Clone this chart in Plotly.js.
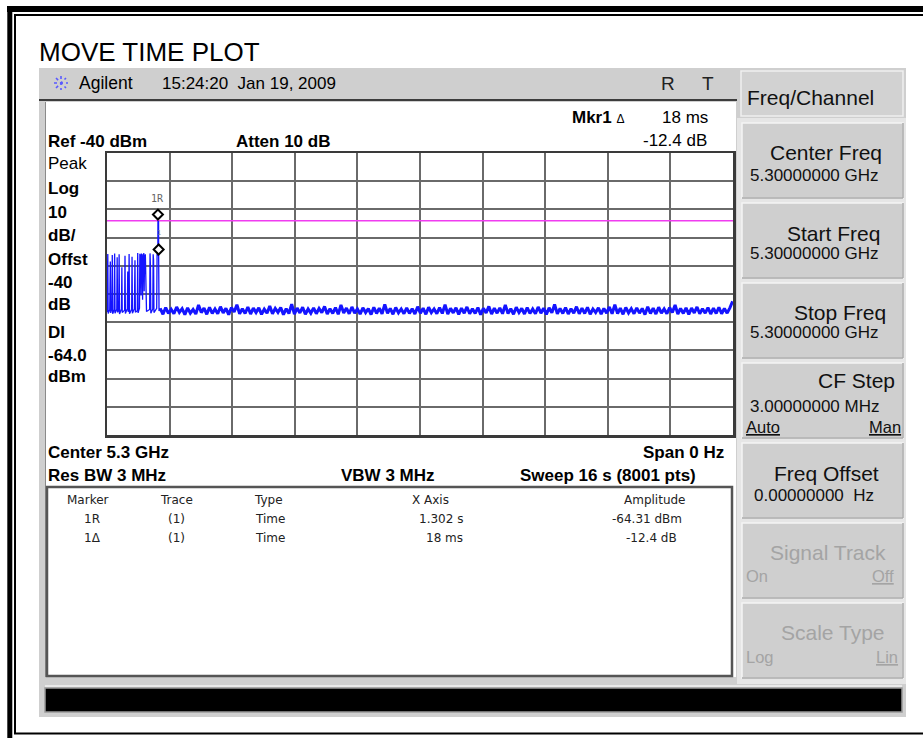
<!DOCTYPE html>
<html><head><meta charset="utf-8">
<script src="https://cdn.plot.ly/plotly-3.0.1.min.js"></script>
<style>html,body{margin:0;padding:0;background:#fff;overflow:hidden}#chart{width:923px;height:738px}</style>
</head><body><div id="chart"></div>
<script>
// ---------------- DATA ----------------
var refLevel = -40;          // dBm (top of grid)
var dbPerDiv = 10;
var yDivisions = 10;
var sweepTime = 16;          // s
var xDivisions = 10;
var displayLine = -64.0;     // dBm

// burst region of the trace (time s, amplitude dBm)
var pulseTime = [0.000,0.020,0.030,0.070,0.085,0.095,0.125,0.135,0.145,0.185,0.195,0.205,0.250,0.260,0.270,0.300,0.310,0.320,
  0.370,0.380,0.390,0.450,0.460,0.470,0.520,0.530,0.540,0.555,0.565,0.575,0.630,0.640,0.650,0.700,0.715,0.725,0.775,0.785,0.795,
  0.830,0.840,0.850,0.860,0.870,0.880,0.890,0.900,0.910,0.920,0.930,0.940,0.950,0.960,0.970,0.980,0.990,1.000,1.010,
  1.090,1.100,1.110,1.120,1.170,1.180,1.190,1.200,1.270,1.280,1.290,1.300,1.302,1.318,1.320,1.330,1.360];
var pulseAmp = [-96.4,-75.8,-96.9,-95.6,-78.5,-96.7,-95.2,-76.2,-97.0,-95.5,-75.6,-96.8,-95.4,-77.0,-96.5,-95.8,-75.9,-97.1,
  -95.3,-80.5,-96.6,-95.7,-76.4,-96.9,-95.1,-82.0,-96.3,-95.6,-75.8,-97.0,-95.4,-76.8,-96.8,-95.2,-78.0,-96.5,-95.9,-75.5,-96.7,
  -95.0,-75.7,-88.0,-76.0,-90.5,-75.6,-86.0,-76.3,-92.0,-75.8,-84.0,-75.5,-89.0,-76.1,-83.0,-75.9,-91.0,-77.5,-96.2,
  -95.5,-75.6,-80.0,-96.8,-95.3,-75.9,-78.0,-96.6,-95.1,-75.7,-76.5,-75.8,-64.31,-64.4,-76.71,-96.0,-95.1];

// noise floor after the burst, one reading per 0.07 s from 1.36 s
var noiseStart = 1.36, noiseStep = 0.07;
var noiseAmp = [
  -95.1,-97.2,-94.8,-96.9,-95.4,-97.0,-94.6,-96.5,-95.2,-97.3,
  -94.9,-96.8,-95.5,-97.1,-93.9,-96.6,-95.0,-97.2,-94.7,-96.9,
  -95.3,-97.0,-94.5,-96.7,-95.1,-97.3,-94.8,-96.4,-93.8,-97.0,
  -95.2,-96.9,-94.6,-97.1,-95.0,-96.6,-94.9,-97.2,-95.4,-96.8,
  -94.3,-97.0,-95.1,-96.5,-94.8,-97.3,-95.2,-96.9,-93.6,-97.1,
  -95.0,-96.7,-94.7,-97.2,-95.3,-96.8,-94.9,-97.0,-95.1,-96.6,
  -94.4,-97.1,-95.2,-96.9,-94.8,-97.2,-93.9,-96.7,-95.0,-97.0,
  -94.6,-96.8,-95.3,-97.1,-94.9,-96.6,-95.2,-97.3,-94.7,-96.9,
  -95.0,-97.0,-93.7,-96.8,-95.1,-97.2,-94.8,-96.7,-95.3,-97.0,
  -94.9,-96.9,-95.2,-97.1,-94.5,-96.8,-95.0,-97.2,-94.7,-96.6,
  -95.3,-97.0,-94.8,-96.9,-93.8,-97.1,-95.1,-96.7,-94.9,-97.2,
  -95.0,-96.8,-94.6,-97.0,-95.2,-96.9,-94.8,-97.3,-95.1,-96.7,
  -94.4,-97.1,-95.0,-96.8,-94.9,-97.0,-93.9,-96.9,-95.2,-97.2,
  -94.7,-96.6,-95.1,-97.1,-94.8,-96.9,-95.3,-97.0,-94.6,-96.8,
  -95.0,-97.2,-94.9,-96.7,-93.7,-97.0,-95.1,-96.9,-94.8,-97.1,
  -95.2,-96.8,-94.5,-97.0,-95.0,-96.9,-94.7,-97.2,-95.3,-96.6,
  -94.9,-97.1,-95.1,-96.8,-94.6,-97.0,-93.8,-96.9,-95.0,-97.2,
  -94.8,-96.7,-95.2,-97.0,-94.9,-96.8,-95.1,-97.3,-94.5,-96.9,
  -95.0,-97.1,-94.7,-96.8,-95.3,-97.0,-94.8,-96.6,-93.9,-97.1,
  -95.1,-96.9,-94.9,-97.2,-95.0,-96.7,-94.6,-97.0,-95.2,-96.8,
  -94.8,-97.1,-95.0,-96.9,-94.7,-97.0,-95.1,-96.8,-94.9,-92.6];

// markers
var markerNames = ['1R', '1\u0394'];
var markerTime = [1.302, 1.320];
var markerAmp = [-64.31, -76.71];
var markerTrace = ['(1)', '(1)'];
var markerType = ['Time', 'Time'];
var markerXText = ['1.302 s', '18 ms'];
var markerAmpText = ['-64.31 dBm', '-12.4 dB'];
var tableHeaders = ['Marker', 'Trace', 'Type', 'X Axis', 'Amplitude'];

// left annotation column
var leftLabels = ['Peak', 'Log', '10', 'dB/', 'Offst', '-40', 'dB', 'DI', '-64.0', 'dBm'];
var leftBold = [false, true, true, true, true, true, true, true, true, true];

// soft keys
var softkeyLabels = ['Center Freq', 'Start Freq', 'Stop Freq', 'CF Step', 'Freq Offset', 'Signal Track', 'Scale Type'];
var softkeyValues = ['5.30000000 GHz', '5.30000000 GHz', '5.30000000 GHz', '3.00000000 MHz', '0.00000000\u00a0\u00a0Hz', '', ''];
var softkeyOpts = [null, null, null, ['Auto', 'Man'], null, ['On', 'Off'], ['Log', 'Lin']];
var softkeyEnabled = [true, true, true, true, true, false, false];

// ---------------- LAYOUT HELPERS ----------------
var W = 923, H = 738;
var FONT = 'Liberation Sans, Arial, Helvetica, sans-serif';
function px(x){ return x / W; }
function py(y){ return 1 - y / H; }
var shapes = [];
var ann = [];
function rect(x0, y0, x1, y1, fill, line, lw, layer){
  shapes.push({type:'rect', xref:'paper', yref:'paper', x0:px(x0), x1:px(x1), y0:py(y1), y1:py(y0),
    fillcolor: fill || 'rgba(0,0,0,0)', line:{color: line || 'rgba(0,0,0,0)', width: lw || 0}, layer: layer || 'below'});
}
function seg(x0, y0, x1, y1, color, lw, dash, layer){
  shapes.push({type:'line', xref:'paper', yref:'paper', x0:px(x0), y0:py(y0), x1:px(x1), y1:py(y1),
    line:{color:color, width:lw, dash: dash || 'solid'}, layer: layer || 'below'});
}
function txt(s, x, y, anchor, size, opt){
  opt = opt || {};
  ann.push({xref:'paper', yref:'paper', x:px(x), y:py(y), xanchor:anchor, yanchor:'middle', text:s, showarrow:false,
    borderpad:0, borderwidth:0, font:{family: opt.family || FONT, size:size, color: opt.color || '#000'}});
}

// outer page frame
seg(9.8, 6, 9.8, 760, '#000', 5);
seg(7, 9, 960, 9, '#000', 6);
seg(15, 14, 15, 734, '#000', 2);
seg(14, 15, 960, 15, '#000', 2);
seg(14, 733.5, 960, 733.5, '#000', 2);

// instrument screen
rect(39, 68, 906, 717, '#cfcfcf');
rect(737, 118, 906, 684, '#e6e6e6');
rect(45, 102, 736, 677, '#ffffff');
seg(39, 100, 737, 100, '#3c3c3c', 2);
seg(45.5, 102, 45.5, 677, '#8a8a8a', 1);
// marker table box
rect(47, 487, 732, 676, '#ffffff', '#555555', 2.5);
// black message bar
rect(45, 688, 902, 712, '#000000', '#9a9a9a', 1.5);
seg(45, 686, 902, 686, '#f2f2f2', 1.5);

// soft key title + buttons
rect(741, 71, 903, 116, '#d2d2d2', '#f0f0f0', 1.5);
var keyTop = [123, 203, 283, 363, 443, 523, 603];
keyTop.forEach(function(t){
  rect(742, t, 903, t + 75, '#cfcfcf', '#f5f5f5', 1.5);
  seg(742, t + 75, 903, t + 75, '#a8a8a8', 1.5);
  seg(903, t, 903, t + 75, '#a8a8a8', 1.5);
});

// Agilent spark logo
[[54,83,68,83],[61,76,61,90],[56,78,66,88],[56,88,66,78]].forEach(function(l){
  seg(l[0], l[1], l[2], l[3], '#5a5aff', 1.6, 'dot', 'above');
});

// ---------------- TEXT ----------------
txt('MOVE TIME PLOT', 39, 52, 'left', 26);
txt('Agilent', 79, 83, 'left', 17.5);
txt('15:24:20\u00a0\u00a0Jan 19, 2009', 162, 83, 'left', 17);
txt('R', 668, 84, 'center', 19, {color:'#222'});
txt('T', 708, 84, 'center', 19, {color:'#222'});
txt('Freq/Channel', 747, 97, 'left', 21, {color:'#111'});

txt('<b>Mkr1</b> <span style="font-size:12px">\u0394</span>', 572, 117, 'left', 17);
txt('18 ms', 708, 117, 'right', 17);
txt('-12.4 dB', 707, 140, 'right', 17);
txt('<b>Ref ' + refLevel + ' dBm</b>', 48, 141, 'left', 17);
txt('<b>Atten 10 dB</b>', 236, 141, 'left', 17);

var leftY = [163, 188, 212, 236, 260, 283, 304, 333, 355, 377];
leftLabels.forEach(function(s, i){
  txt(leftBold[i] ? '<b>' + s + '</b>' : s, 48, leftY[i], 'left', 17);
});

txt('<b>Center 5.3 GHz</b>', 48, 452, 'left', 17);
txt('<b>Span 0 Hz</b>', 724, 452, 'right', 17);
txt('<b>Res BW 3 MHz</b>', 48, 475, 'left', 17);
txt('<b>VBW 3 MHz</b>', 341, 475, 'left', 17);
txt('<b>Sweep ' + sweepTime + ' s (8001 pts)</b>', 520, 475, 'left', 17);

// marker table
var TF = {family:'DejaVu Sans, Verdana, sans-serif', color:'#222'};
var headX = [88, 176, 268, 430, 655];
tableHeaders.forEach(function(h, i){ txt(h, headX[i], 500, 'center', 12, TF); });
var rowY = [519, 538];
markerNames.forEach(function(m, i){
  txt(m, 92, rowY[i], 'center', 12, TF);
  txt(markerTrace[i], 176, rowY[i], 'center', 12, TF);
  txt(markerType[i], 270, rowY[i], 'center', 12, TF);
  txt(markerXText[i], 463, rowY[i], 'right', 12, TF);
  txt(markerAmpText[i], [682, 677][i], rowY[i], 'right', 12, TF);
});

// soft key text (offsets within each key)
var labRight = [882, 880, 886, 895, 879, 886, 885];
var labDy = [30, 30, 29, 17, 30, 29, 29];
var valDy = [52, 50, 50, 43, 52, 0, 0];
var optDy = [0, 0, 0, 64, 0, 53, 54];
var optRight = [0, 0, 0, 901, 0, 894, 898];
softkeyLabels.forEach(function(s, i){
  var t = keyTop[i];
  var col = softkeyEnabled[i] ? '#111' : '#a4a4a4';
  txt(s, labRight[i], t + labDy[i], 'right', 21, {color: col});
  if (softkeyValues[i]) txt(softkeyValues[i], i === 4 ? 754 : 750, t + valDy[i], 'left', 17, {color: col});
  if (softkeyOpts[i]) {
    txt(softkeyOpts[i][0] === 'Auto' ? '<u>Auto</u>' : softkeyOpts[i][0], 746, t + optDy[i], 'left', 16.5, {color: col});
    txt('<u>' + softkeyOpts[i][1] + '</u>', optRight[i], t + optDy[i], 'right', 16.5, {color: col});
  }
});

// ---------------- TRACES ----------------
var noiseTime = noiseAmp.map(function(_, i){ return +(noiseStart + i * noiseStep).toFixed(3); });

var data = [
  {type:'scatter', mode:'lines', x:[0, sweepTime], y:[displayLine, displayLine],
   line:{color:'#f03cf0', width:1.6}, hoverinfo:'skip', showlegend:false},
  {type:'scatter', mode:'lines', x:noiseTime, y:noiseAmp,
   line:{color:'#1414ff', width:3}, hoverinfo:'skip', showlegend:false},
  {type:'scatter', mode:'lines', x:pulseTime, y:pulseAmp,
   line:{color:'#1414ff', width:1.3}, hoverinfo:'skip', showlegend:false}
];

// marker diamonds (drawn a few px above each marker point)
markerTime.forEach(function(t, i){
  shapes.push({type:'path', xref:'x', yref:'y', xsizemode:'pixel', ysizemode:'pixel', xanchor:t, yanchor:markerAmp[i],
    path:'M0,2 L5,7 L0,12 L-5,7 Z', fillcolor:'#ffffff', line:{color:'#000', width:2}, layer:'above'});
});
ann.push({xref:'x', yref:'y', x:markerTime[0], y:markerAmp[0], yshift:23, text:'1R', showarrow:false,
  font:{family:'DejaVu Sans Mono, monospace', size:10, color:'#666'}});
ann.push({xref:'x', yref:'y', x:markerTime[1], y:markerAmp[1], yshift:24, text:'1', showarrow:false,
  font:{family:'DejaVu Sans Mono, monospace', size:7, color:'#888'}});

var axisCommon = {showgrid:true, gridcolor:'#6a6a6a', gridwidth:2, showline:true, mirror:true,
  linecolor:'#3a3a3a', linewidth:2.5, showticklabels:false, ticks:'', zeroline:false, fixedrange:true};

var layout = {
  width:W, height:H, margin:{l:0, r:0, t:0, b:0, pad:0},
  paper_bgcolor:'#ffffff', plot_bgcolor:'rgba(0,0,0,0)', showlegend:false,
  xaxis: Object.assign({domain:[107/W, 733/W], range:[0, sweepTime], tick0:0, dtick:sweepTime / xDivisions}, axisCommon),
  yaxis: Object.assign({domain:[1 - 435/H, 1 - 153/H], range:[refLevel - dbPerDiv * yDivisions, refLevel], tick0:refLevel, dtick:dbPerDiv}, axisCommon),
  shapes: shapes, annotations: ann
};

Plotly.newPlot('chart', data, layout, {displayModeBar:false, staticPlot:true});
</script>
</body></html>
